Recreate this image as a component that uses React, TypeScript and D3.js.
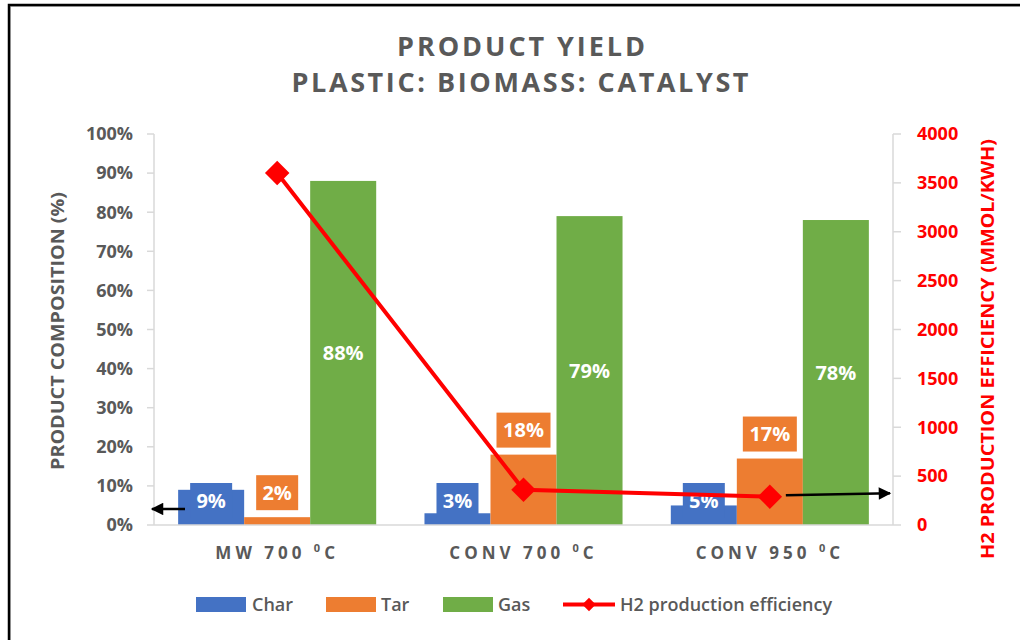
import React from 'react';
import * as d3 from 'd3';

// chart values
const categories = ['MW 700', 'CONV 700', 'CONV 950'];
const seriesNames = ['Char', 'Tar', 'Gas'];
const charValues = [0.09, 0.03, 0.05];
const tarValues = [0.02, 0.18, 0.17];
const gasValues = [0.88, 0.79, 0.78];
const h2Values = [3600, 360, 290];
const leftTicks = [0, 0.1, 0.2, 0.3, 0.4, 0.5, 0.6, 0.7, 0.8, 0.9, 1];
const rightTicks = [0, 500, 1000, 1500, 2000, 2500, 3000, 3500, 4000];

const colors: Record<string, string> = { Char: '#4472C4', Tar: '#ED7D31', Gas: '#70AD47' };
const grey = '#595959';
const red = '#FF0000';
const font = '"Open Sans", "DejaVu Sans", sans-serif';

const W = 1020, H = 640;
const plot = { left: 154, right: 893, top: 134, bottom: 525 };

export default function App() {
  const x = d3.scaleBand<string>().domain(categories)
    .range([plot.left, plot.right]).paddingInner(0.196).paddingOuter(0.098);
  const xs = d3.scaleBand<string>().domain(seriesNames).range([0, x.bandwidth()]);
  const yL = d3.scaleLinear().domain([0, 1]).range([plot.bottom, plot.top]);
  const yR = d3.scaleLinear().domain([0, 4000]).range([plot.bottom, plot.top]);

  const seriesValues: Record<string, number[]> = { Char: charValues, Tar: tarValues, Gas: gasValues };
  const pct = d3.format('.0%');
  const cx = (c: string) => (x(c) as number) + x.bandwidth() / 2;

  const line = d3.line<number>()
    .x((_, i) => cx(categories[i]))
    .y(d => yR(d));
  const diamond = d3.symbol().type(d3.symbolSquare).size(300)();
  const smallDiamond = d3.symbol().type(d3.symbolSquare).size(90)();

  const labelBox = (s: string) => 18 + s.length * 12;

  // annotation arrows
  const lArrowY = yL(0.041);
  const rArrowY = yR(305);
  const rArrowX0 = cx(categories[2]) + 16;

  const legend = [
    { name: 'Char', x: 196, textX: 252 },
    { name: 'Tar', x: 326, textX: 381 },
    { name: 'Gas', x: 443, textX: 498 },
  ];

  return (
    <div style={{ position: 'fixed', left: 0, top: 0, width: W, height: H, background: '#fff' }}>
      <svg width={W} height={H} style={{ display: 'block', fontFamily: font }}>
        <defs>
          <marker id="ah" viewBox="0 0 10 10" refX="9" refY="5" markerWidth="5.5" markerHeight="5" orient="auto-start-reverse">
            <path d="M0,0 L10,5 L0,10 z" fill="#000" />
          </marker>
        </defs>
        <rect x={0} y={0} width={W} height={H} fill="#fff" />
        {/* frame */}
        <rect x={10.5} y={6.5} width={W + 20} height={H + 20} fill="none" stroke="#bfbfbf" strokeWidth={1} />
        <rect x={9} y={5} width={W + 20} height={H + 20} fill="none" stroke="#000" strokeWidth={2.5} />

        {/* title */}
        <text x={521} y={56} textAnchor="middle" fill={grey} fontSize={27} fontWeight={700}
          textLength={248} lengthAdjust="spacing">PRODUCT YIELD</text>
        <text x={520} y={92} textAnchor="middle" fill={grey} fontSize={27} fontWeight={700}
          textLength={457} lengthAdjust="spacing">PLASTIC: BIOMASS: CATALYST</text>

        {/* left axis */}
        <line x1={plot.left} x2={plot.left} y1={plot.top} y2={plot.bottom} stroke="#d9d9d9" strokeWidth={1.5} />
        {leftTicks.map(t => (
          <g key={'l' + t}>
            <line x1={plot.left - 7} x2={plot.left} y1={yL(t)} y2={yL(t)} stroke="#d9d9d9" strokeWidth={1.5} />
            <text x={133} y={yL(t)} dy="0.35em" textAnchor="end" fill={grey} fontSize={18} fontWeight={700}>{pct(t)}</text>
          </g>
        ))}
        <text transform={`translate(64,331) rotate(-90)`} textAnchor="middle" fill={grey} fontSize={17} fontWeight={700}
          textLength={278} lengthAdjust="spacingAndGlyphs">PRODUCT COMPOSITION (%)</text>

        {/* right axis */}
        <line x1={plot.right} x2={plot.right} y1={plot.top} y2={plot.bottom} stroke="#d9d9d9" strokeWidth={1.5} />
        {rightTicks.map(t => (
          <g key={'r' + t}>
            <line x1={plot.right} x2={plot.right + 8} y1={yR(t)} y2={yR(t)} stroke="#d9d9d9" strokeWidth={1.5} />
            <text x={917} y={yR(t)} dy="0.35em" textAnchor="start" fill={red} fontSize={18} fontWeight={700}>{t}</text>
          </g>
        ))}
        <text transform={`translate(994,349) rotate(-90)`} textAnchor="middle" fill={red} fontSize={17} fontWeight={700}
          textLength={420} lengthAdjust="spacingAndGlyphs">H2 PRODUCTION EFFICIENCY (MMOL/KWH)</text>

        {/* bars */}
        {seriesNames.map(s => categories.map((c, i) => {
          const v = seriesValues[s][i];
          const bx = (x(c) as number) + (xs(s) as number);
          return <rect key={s + c} x={bx} y={yL(v)} width={xs.bandwidth()} height={yL(0) - yL(v)} fill={colors[s]} />;
        }))}

        {/* bottom axis */}
        <line x1={plot.left} x2={plot.right} y1={plot.bottom} y2={plot.bottom} stroke="#d9d9d9" strokeWidth={1.5} />
        {categories.map(c => (
          <text key={'c' + c} x={cx(c)} y={559} textAnchor="middle" fill={grey} fontSize={17} fontWeight={700}
            letterSpacing={4}>
            {c + ' '}<tspan fontSize={11} dy={-7}>0</tspan><tspan dy={7}>C</tspan>
          </text>
        ))}

        {/* data labels */}
        {categories.map((c, i) => {
          const s = pct(charValues[i]);
          const bx = (x(c) as number) + (xs('Char') as number) + xs.bandwidth() / 2;
          const w = labelBox(s), h = 35;
          const y1 = yL(0) - 7;
          return (
            <g key={'lc' + c}>
              <rect x={bx - w / 2} y={y1 - h} width={w} height={h} fill={colors.Char} />
              <text x={bx} y={y1 - h / 2} dy="0.35em" textAnchor="middle" fill="#fff" fontSize={20} fontWeight={700}>{s}</text>
            </g>
          );
        })}
        {categories.map((c, i) => {
          const s = pct(tarValues[i]);
          const bx = (x(c) as number) + (xs('Tar') as number) + xs.bandwidth() / 2;
          const w = labelBox(s), h = 35;
          const y1 = yL(tarValues[i]) - 7;
          return (
            <g key={'lt' + c}>
              <rect x={bx - w / 2} y={y1 - h} width={w} height={h} fill={colors.Tar} />
              <text x={bx} y={y1 - h / 2} dy="0.35em" textAnchor="middle" fill="#fff" fontSize={20} fontWeight={700}>{s}</text>
            </g>
          );
        })}
        {categories.map((c, i) => {
          const s = pct(gasValues[i]);
          const bx = (x(c) as number) + (xs('Gas') as number) + xs.bandwidth() / 2;
          const ym = (yL(gasValues[i]) + yL(0)) / 2;
          return (
            <text key={'lg' + c} x={bx} y={ym} dy="0.35em" textAnchor="middle" fill="#fff" fontSize={20} fontWeight={700}>{s}</text>
          );
        })}

        {/* H2 line */}
        <path d={line(h2Values) || ''} fill="none" stroke={red} strokeWidth={4} />
        {h2Values.map((v, i) => (
          <path key={'m' + i} d={diamond || ''} transform={`translate(${cx(categories[i])},${yR(v)}) rotate(45)`} fill={red} />
        ))}

        {/* arrows */}
        <line x1={plot.left + 31} x2={plot.left - 2} y1={lArrowY} y2={lArrowY} stroke="#000" strokeWidth={2.5} markerEnd="url(#ah)" />
        <line x1={rArrowX0} x2={plot.right - 3} y1={rArrowY} y2={rArrowY - 2} stroke="#000" strokeWidth={2.5} markerEnd="url(#ah)" />

        {/* legend */}
        {legend.map(l => (
          <g key={'lg' + l.name}>
            <rect x={l.x} y={597} width={50} height={15} fill={colors[l.name]} />
            <text x={l.textX} y={604.5} dy="0.35em" fill={grey} fontSize={18} fontWeight={600}>{l.name}</text>
          </g>
        ))}
        <line x1={563} x2={615} y1={604.5} y2={604.5} stroke={red} strokeWidth={4} />
        <path d={smallDiamond || ''} transform="translate(589,604.5) rotate(45)" fill={red} />
        <text x={620} y={604.5} dy="0.35em" fill={grey} fontSize={18} fontWeight={600}>H2 production efficiency</text>
      </svg>
    </div>
  );
}
